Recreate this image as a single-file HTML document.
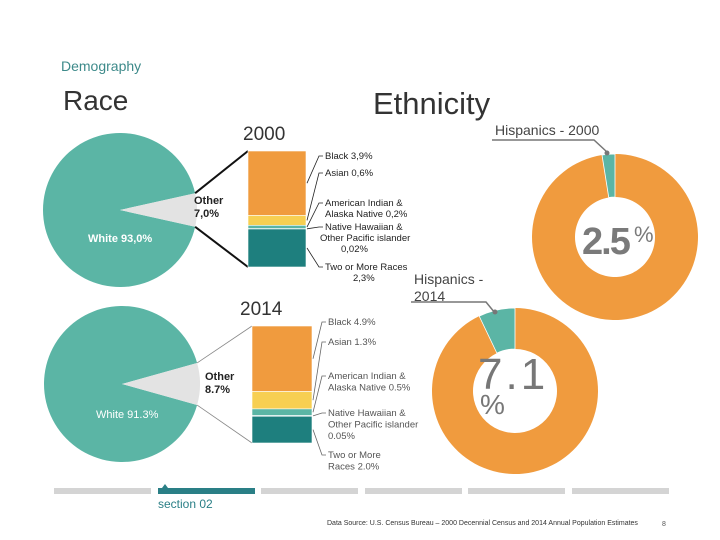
<!DOCTYPE html>
<html><head><meta charset="utf-8"><style>
html,body{margin:0;padding:0;background:#fff;}
svg{display:block;font-family:"Liberation Sans",sans-serif;}
</style></head><body>
<svg id="s" width="720" height="540" viewBox="0 0 720 540">
<text x="61" y="71" font-size="14" fill="#3d8a8a">Demography</text>
<text x="63" y="110" font-size="28" fill="#333">Race</text>
<text x="373" y="114" font-size="31" fill="#333">Ethnicity</text>
<text x="243" y="140" font-size="19" fill="#333">2000</text>
<text x="240" y="315" font-size="19" fill="#333">2014</text>
<g id="race"></g>
<g id="eth"></g>
<g id="footer"></g>
</svg>
<script>
const pieLabels2000 = ["White 93,0%", "Other 7,0%"];
const pieValues2000 = [93.0, 7.0];
const pieValues2014 = [91.3, 8.7];
const groups = ["Black", "Asian", "American Indian & Alaska Native", "Native Hawaiian & Other Pacific islander", "Two or More Races"];
const values2000 = [3.9, 0.6, 0.2, 0.02, 2.3];
const values2014 = [4.9, 1.3, 0.5, 0.05, 2.0];
const hispanicShares = [2.5, 7.1];
const hispanicYears = ["2000", "2014"];

const NS = "http://www.w3.org/2000/svg";
function mk(tag, attrs, parent, text){
  const e = document.createElementNS(NS, tag);
  for (const k in attrs) e.setAttribute(k, attrs[k]);
  if (text !== undefined) e.textContent = text;
  parent.appendChild(e); return e;
}
const race = document.getElementById('race');
const eth = document.getElementById('eth');
const foot = document.getElementById('footer');
const TEAL = "#5bb5a5", GRAY = "#e3e3e3";
const barColors = ["#f09b3e", "#f7cf52", "#5bb5a5", "#a9d9cf", "#1e7f7e"];

function arcPath(cx, cy, r, a0, a1, r0){
  const p = a => [cx + r*Math.cos(a*Math.PI/180), cy + r*Math.sin(a*Math.PI/180)];
  const large = (a1 - a0) > 180 ? 1 : 0;
  const [x0,y0] = p(a0), [x1,y1] = p(a1);
  if (r0 === undefined) return `M${cx},${cy} L${x0},${y0} A${r},${r} 0 ${large} 1 ${x1},${y1} Z`;
  const q = a => [cx + r0*Math.cos(a*Math.PI/180), cy + r0*Math.sin(a*Math.PI/180)];
  const [u0,v0] = q(a0), [u1,v1] = q(a1);
  return `M${x0},${y0} A${r},${r} 0 ${large} 1 ${x1},${y1} L${u1},${v1} A${r0},${r0} 0 ${large} 0 ${u0},${v0} Z`;
}

function drawPie(cfg, vals){
  const total = vals[0] + vals[1];
  const half = vals[1] / total * 180;
  let e = mk('path', {d: arcPath(cfg.cx, cfg.cy, cfg.r, half, 360 - half), fill: TEAL}, race);
  
  
  e = mk('path', {d: arcPath(cfg.cx, cfg.cy, cfg.r, -half, half), fill: GRAY}, race);
  
  
  const ex = cfg.cx + cfg.r*Math.cos(half*Math.PI/180), ey = cfg.r*Math.sin(half*Math.PI/180);
  e = mk('line', {x1: ex, y1: cfg.cy - ey, x2: cfg.bx, y2: cfg.by, stroke: cfg.conn, 'stroke-width': cfg.cw}, race);
  
  
  e = mk('line', {x1: ex, y1: cfg.cy + ey, x2: cfg.bx, y2: cfg.by + cfg.bh, stroke: cfg.conn, 'stroke-width': cfg.cw}, race);
  
  
  const sep = cfg.comma ? "," : ".";
  const fmt = v => v.toFixed(1).replace(".", sep) + "%";
  e = mk('text', {x: cfg.wx, y: cfg.wy, 'font-size': 11, 'font-weight': cfg.bold ? 'bold' : 'normal', fill: '#fff'}, race, "White " + fmt(vals[0]));
  
  
  e = mk('text', {x: cfg.ox, y: cfg.oy, 'font-size': 11, 'font-weight': 'bold', fill: '#222'}, race, "Other");
  
  
  e = mk('text', {x: cfg.ox, y: cfg.oy + 13, 'font-size': 11, 'font-weight': 'bold', fill: '#222'}, race, fmt(vals[1]));
  
  
}

function drawBar(cfg, vals){
  const total = vals.reduce((a,b)=>a+b,0);
  let y = cfg.by;
  vals.forEach((v,i)=>{
    const h = v/total*cfg.bh;
    const r = mk('rect', {x: cfg.bx, y: y, width: cfg.bw, height: Math.max(h, 0.6), fill: barColors[i], stroke: '#fff', 'stroke-width': 0.6}, race);
    
    
    const mid = y + h/2;
    const lx = cfg.bx + cfg.bw + 1, ly = cfg.labY[i];
    const l = mk('polyline', {points: `${lx},${mid} ${cfg.lx - 6},${ly - 3} ${cfg.lx - 2},${ly - 3}`, fill: 'none', stroke: cfg.lc, 'stroke-width': 0.8}, race);
    
    
    y += h;
  });
  const sep = cfg.comma ? "," : ".";
  const fmt = v => (v < 0.1 ? v.toFixed(2) : v.toFixed(1)).replace(".", sep) + "%";
  cfg.lines.forEach((lines,i)=>{
    lines.forEach((t,j)=>{
      const txt = t.replace("{v}", fmt(vals[i]));
      const e = mk('text', {x: cfg.lx + (cfg.center && cfg.center[i] && j>0 ? cfg.center[i][j-1] : 0), y: cfg.labY[i] + j*cfg.lh, 'font-size': 9.5, fill: cfg.tc}, race, txt);
      
      
    });
  });
}

const c2000 = {year:'2000', cx:120, cy:210, r:77, bx:248, by:151, bw:58, bh:116, conn:'#111', cw:2, wx:88, wy:242, ox:194, oy:204, comma:true, bold:true,
  lx:325, labY:[159,176,206,230,270], lh:11, lc:'#222', tc:'#222',
  lines:[["Black {v}"],["Asian {v}"],["American Indian &","Alaska Native {v}"],["Native Hawaiian &","Other Pacific islander","{v}"],["Two or More Races","{v}"]],
  center:[null,null,[0],[ -5, 16],[28]]};
const c2014 = {year:'2014', cx:122, cy:384, r:78, bx:252, by:326, bw:60, bh:117, conn:'#888', cw:0.8, wx:96, wy:418, ox:205, oy:380, comma:false, bold:false,
  lx:328, labY:[325,345,379,416,458], lh:11.5, lc:'#666', tc:'#555',
  lines:[["Black {v}"],["Asian {v}"],["American Indian &","Alaska Native {v}"],["Native Hawaiian &","Other Pacific islander","{v}"],["Two or More","Races {v}"]],
  center:null};

drawPie(c2000, pieValues2000);
drawBar(c2000, values2000);
drawPie(c2014, pieValues2014);
drawBar(c2014, values2014);

const donuts = [
  {cx:615, cy:237, R:83, r:40},
  {cx:515, cy:391, R:83, r:42}
];
hispanicShares.forEach((v,i)=>{
  const d = donuts[i];
  const a = v/100*360;
  let e = mk('path', {d: arcPath(d.cx, d.cy, d.R, -90, 270 - a, d.r), fill: '#f09b3e'}, eth);
  
  
  e = mk('path', {d: arcPath(d.cx, d.cy, d.R, 270 - a, 270, d.r), fill: TEAL, stroke:'#fff','stroke-width':0.8}, eth);
  
  
});
let t = mk('text', {x:495, y:135, 'font-size':14, fill:'#444'}, eth, "Hispanics - " + hispanicYears[0]);


t = mk('polyline', {points:'492,140 594,140 607,152', fill:'none', stroke:'#777', 'stroke-width':1.5}, eth);


t = mk('circle', {cx:607, cy:153, r:2.5, fill:'#777'}, eth);


t = mk('text', {x:414, y:284, 'font-size':14, fill:'#444'}, eth, "Hispanics -");


t = mk('text', {x:414, y:301, 'font-size':14, fill:'#444'}, eth, hispanicYears[1]);


t = mk('polyline', {points:'411,302 486,302 495,313', fill:'none', stroke:'#777', 'stroke-width':1.5}, eth);


t = mk('circle', {cx:495, cy:312, r:2.5, fill:'#777'}, eth);


t = mk('text', {x:582, y:254, 'font-size':38, 'font-weight':'bold', fill:'#7a7a7a', 'letter-spacing':'-2'}, eth, hispanicShares[0].toFixed(1));


t = mk('text', {x:634, y:242, 'font-size':22, fill:'#7a7a7a'}, eth, "%");


t = mk('text', {x:478, y:389, 'font-size':44, fill:'#777', 'letter-spacing':'3'}, eth, hispanicShares[1].toFixed(1));


t = mk('text', {x:480, y:414, 'font-size':28, fill:'#777'}, eth, "%");



const navX = [54,158,261,365,468,572];
navX.forEach((x,i)=>{
  const r = mk('rect', {x:x, y:488, width:97, height:6, fill: i===1 ? '#2a7f86' : '#d4d4d4'}, foot);
  
  
});
t = mk('polygon', {points:'162,488 165,484 168,488', fill:'#2a7f86'}, foot);


t = mk('text', {x:158, y:508, 'font-size':12, fill:'#2a7f86'}, foot, "section 02");


t = mk('text', {x:327, y:525, 'font-size':7, fill:'#333'}, foot, "Data Source: U.S. Census Bureau – 2000 Decennial Census and 2014 Annual Population Estimates");


t = mk('text', {x:662, y:526, 'font-size':7, fill:'#555'}, foot, "8");


</script>
</body></html>
